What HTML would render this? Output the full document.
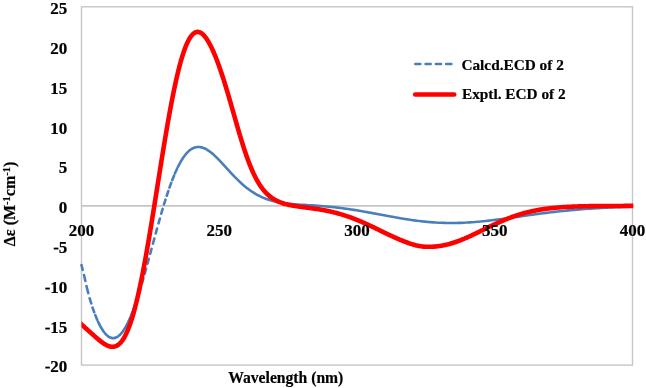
<!DOCTYPE html>
<html><head><meta charset="utf-8"><style>
html,body{margin:0;padding:0;background:#fff;width:646px;height:388px;overflow:hidden}
svg{display:block;will-change:transform}
.t{font-family:"Liberation Serif",serif;font-weight:bold;font-size:17px;fill:#000;stroke:#000;stroke-width:0.2px}
.l{font-family:"Liberation Serif",serif;font-weight:bold;font-size:15.3px;fill:#000;stroke:#000;stroke-width:0.2px}
.a{font-family:"Liberation Serif",serif;font-weight:bold;font-size:16px;fill:#000;stroke:#000;stroke-width:0.2px}
</style></head><body>
<svg width="646" height="388" viewBox="0 0 646 388">
<rect x="81.5" y="6.8" width="551.0" height="358.3" fill="none" stroke="#c6c6c6" stroke-width="1.4"/>
<line x1="81.5" y1="205.86" x2="632.5" y2="205.86" stroke="#c6c6c6" stroke-width="1.6"/>
<path d="M81.50,265.00L84.25,276.05M84.25,276.05L87.00,288.26M87.00,288.26L89.75,298.66M89.75,298.66L92.50,307.51M92.50,307.51L95.25,315.09M95.25,315.09L98.00,321.58M98.00,321.58L100.75,327.04M100.75,327.04L103.50,331.46M103.50,331.46L106.25,334.78M106.25,334.78L109.00,336.99M109.00,336.99L111.75,338.08M111.75,338.08L114.50,338.07M114.50,338.07L117.25,336.97M117.25,336.97L120.00,334.80M120.00,334.80L122.75,331.56M122.75,331.56L125.50,327.28M125.50,327.28L128.25,322.01M128.25,322.01L131.00,315.80M131.00,315.80L133.75,308.71M133.75,308.71L136.50,300.84M136.50,300.84L139.25,292.29M139.25,292.29L142.00,283.17M142.00,283.17L144.75,273.59M144.75,273.59L147.50,263.69M147.50,263.69L150.25,253.58M150.25,253.58L153.00,243.41M153.00,243.41L155.75,233.29M155.75,233.29L158.50,223.35M158.50,223.35L161.25,213.71M161.25,213.71L164.00,204.46M164.00,204.46L166.75,195.72M166.75,195.72L169.50,187.56M169.50,187.56L172.25,180.06M172.25,180.06L175.00,173.27M175.00,173.27L177.75,167.23M177.75,167.23L180.50,161.99M180.50,161.99L183.25,157.55M183.25,157.55L186.00,153.91M186.00,153.91L188.75,151.06M188.75,151.06L191.50,148.99M191.50,148.99L194.25,147.66M194.25,147.66L197.00,147.02M197.00,147.02L199.75,147.02M199.75,147.02L202.50,147.62M202.50,147.62L205.25,148.73M205.25,148.73L208.00,150.32M208.00,150.32L210.75,152.29M210.75,152.29L213.50,154.60M213.50,154.60L216.25,157.16M216.25,157.16L219.00,159.93M219.00,159.93L221.75,162.83M221.75,162.83L224.50,165.82M224.50,165.82L227.25,168.83M227.25,168.83L230.00,171.84M230.00,171.84L232.75,174.78M232.75,174.78L235.50,177.64M235.50,177.64L238.25,180.38M238.25,180.38L241.00,182.98M241.00,182.98L243.75,185.42M243.75,185.42L246.50,187.69M246.50,187.69L249.25,189.79M249.25,189.79L252.00,191.71M252.00,191.71L254.75,193.45M254.75,193.45L257.50,195.01M257.50,195.01L260.25,196.41M260.25,196.41L263.00,197.65M263.00,197.65L265.75,198.74M265.75,198.74L268.50,199.69M268.50,199.69L271.25,200.52M271.25,200.52L274.00,201.24M274.00,201.24L276.75,201.85M276.75,201.85L279.50,202.38M279.50,202.38L282.25,202.83M282.25,202.83L285.00,203.22M285.00,203.22L287.75,203.55M287.75,203.55L290.50,203.84M290.50,203.84L293.25,204.09M293.25,204.09L296.00,204.32M296.00,204.32L298.75,204.52M298.75,204.52L301.50,204.71M301.50,204.71L304.25,204.89M304.25,204.89L307.00,205.07M307.00,205.07L309.75,205.24M309.75,205.24L312.50,205.42M312.50,205.42L315.25,205.61M315.25,205.61L318.00,205.81M318.00,205.81L320.75,206.02M320.75,206.02L323.50,206.25M323.50,206.25L326.25,206.49M326.25,206.49L329.00,206.74M329.00,206.74L331.75,207.02M331.75,207.02L334.50,207.31M334.50,207.31L337.25,207.62M337.25,207.62L340.00,207.95M340.00,207.95L342.75,208.30M342.75,208.30L345.50,208.67M345.50,208.67L348.25,209.05M348.25,209.05L351.00,209.46M351.00,209.46L353.75,209.87M353.75,209.87L356.50,210.31M356.50,210.31L359.25,210.76M359.25,210.76L362.00,211.22M362.00,211.22L364.75,211.70M364.75,211.70L367.50,212.18M367.50,212.18L370.25,212.68M370.25,212.68L373.00,213.18M373.00,213.18L375.75,213.69M375.75,213.69L378.50,214.20M378.50,214.20L381.25,214.72M381.25,214.72L384.00,215.23M384.00,215.23L386.75,215.75M386.75,215.75L389.50,216.26M389.50,216.26L392.25,216.76M392.25,216.76L395.00,217.26M395.00,217.26L397.75,217.74M397.75,217.74L400.50,218.22M400.50,218.22L403.25,218.68M403.25,218.68L406.00,219.12M406.00,219.12L408.75,219.55M408.75,219.55L411.50,219.96M411.50,219.96L414.25,220.35M414.25,220.35L417.00,220.71M417.00,220.71L419.75,221.05M419.75,221.05L422.50,221.37M422.50,221.37L425.25,221.66M425.25,221.66L428.00,221.93M428.00,221.93L430.75,222.16M430.75,222.16L433.50,222.37M433.50,222.37L436.25,222.55M436.25,222.55L439.00,222.70M439.00,222.70L441.75,222.82M441.75,222.82L444.50,222.91M444.50,222.91L447.25,222.97M447.25,222.97L450.00,223.00M450.00,223.00L452.75,223.00M452.75,223.00L455.50,222.97M455.50,222.97L458.25,222.91M458.25,222.91L461.00,222.83M461.00,222.83L463.75,222.71M463.75,222.71L466.50,222.57M466.50,222.57L469.25,222.41M469.25,222.41L472.00,222.22M472.00,222.22L474.75,222.01M474.75,222.01L477.50,221.78M477.50,221.78L480.25,221.52M480.25,221.52L483.00,221.25M483.00,221.25L485.75,220.96M485.75,220.96L488.50,220.65M488.50,220.65L491.25,220.33M491.25,220.33L494.00,219.99M494.00,219.99L496.75,219.65M496.75,219.65L499.50,219.29M499.50,219.29L502.25,218.92M502.25,218.92L505.00,218.55M505.00,218.55L507.75,218.17M507.75,218.17L510.50,217.78M510.50,217.78L513.25,217.39M513.25,217.39L516.00,217.00M516.00,217.00L518.75,216.61M518.75,216.61L521.50,216.22M521.50,216.22L524.25,215.83M524.25,215.83L527.00,215.44M527.00,215.44L529.75,215.05M529.75,215.05L532.50,214.67M532.50,214.67L535.25,214.30M535.25,214.30L538.00,213.93M538.00,213.93L540.75,213.56M540.75,213.56L543.50,213.21M543.50,213.21L546.25,212.86M546.25,212.86L549.00,212.52M549.00,212.52L551.75,212.19M551.75,212.19L554.50,211.86M554.50,211.86L557.25,211.55M557.25,211.55L560.00,211.25M560.00,211.25L562.75,210.96M562.75,210.96L565.50,210.67M565.50,210.67L568.25,210.40M568.25,210.40L571.00,210.14M571.00,210.14L573.75,209.89M573.75,209.89L576.50,209.65M576.50,209.65L579.25,209.42M579.25,209.42L582.00,209.20M582.00,209.20L584.75,208.99M584.75,208.99L587.50,208.79M587.50,208.79L590.25,208.60M590.25,208.60L593.00,208.42M593.00,208.42L595.75,208.25M595.75,208.25L598.50,208.08M598.50,208.08L601.25,207.93M601.25,207.93L604.00,207.79M604.00,207.79L606.75,207.65M606.75,207.65L609.50,207.52M609.50,207.52L612.25,207.40M612.25,207.40L615.00,207.29M615.00,207.29L617.75,207.18M617.75,207.18L620.50,207.08M620.50,207.08L623.25,206.99M623.25,206.99L626.00,206.90M626.00,206.90L628.75,206.82M628.75,206.82L631.50,206.75" fill="none" stroke="#4a7ebb" stroke-width="2.6" stroke-linecap="round" stroke-dasharray="5.0 5.3"/>
<defs><clipPath id="pc"><rect x="81.5" y="0" width="551.8" height="388"/></clipPath></defs>
<path clip-path="url(#pc)" d="M78.00,321.29 L78.61,321.85 L79.23,322.41 L79.84,322.96 L80.46,323.52 L81.07,324.07 L81.68,324.62 L82.30,325.17 L82.91,325.72 L83.52,326.27 L84.14,326.81 L84.75,327.36 L85.37,327.91 L85.98,328.46 L86.59,329.01 L87.21,329.56 L87.82,330.11 L88.43,330.66 L89.05,331.21 L89.66,331.76 L90.28,332.31 L90.89,332.86 L91.50,333.42 L92.12,333.97 L92.73,334.51 L93.34,335.06 L93.96,335.61 L94.57,336.15 L95.19,336.69 L95.80,337.23 L96.41,337.76 L97.03,338.29 L97.64,338.82 L98.26,339.33 L98.90,339.87 L99.54,340.39 L100.18,340.90 L100.82,341.40 L101.46,341.89 L102.13,342.39 L102.80,342.87 L103.47,343.33 L104.14,343.77 L104.84,344.20 L105.54,344.61 L106.26,345.01 L106.99,345.37 L107.74,345.71 L108.49,346.01 L109.28,346.27 L110.06,346.48 L110.87,346.64 L111.68,346.74 L112.48,346.77 L113.29,346.74 L114.10,346.63 L114.88,346.45 L115.66,346.19 L116.42,345.86 L117.14,345.48 L117.84,345.04 L118.51,344.55 L119.15,344.02 L119.77,343.46 L120.35,342.86 L120.91,342.24 L121.44,341.60 L121.94,340.96 L122.42,340.31 L122.89,339.62 L123.34,338.93 L123.78,338.21 L124.20,337.51 L124.62,336.77 L125.01,336.05 L125.40,335.30 L125.76,334.58 L126.13,333.84 L126.49,333.07 L126.83,332.34 L127.16,331.59 L127.49,330.81 L127.83,330.02 L128.14,329.27 L128.44,328.50 L128.75,327.72 L129.06,326.92 L129.36,326.10 L129.64,325.33 L129.92,324.55 L130.20,323.76 L130.48,322.95 L130.76,322.13 L131.04,321.29 L131.29,320.52 L131.54,319.74 L131.79,318.95 L132.04,318.15 L132.29,317.33 L132.54,316.50 L132.80,315.66 L133.05,314.80 L133.27,314.03 L133.49,313.26 L133.72,312.47 L133.94,311.67 L134.16,310.86 L134.39,310.04 L134.61,309.22 L134.83,308.38 L135.06,307.53 L135.28,306.68 L135.50,305.81 L135.73,304.94 L135.95,304.05 L136.14,303.27 L136.34,302.48 L136.53,301.69 L136.73,300.89 L136.92,300.08 L137.12,299.26 L137.32,298.44 L137.51,297.61 L137.71,296.77 L137.90,295.93 L138.10,295.08 L138.29,294.22 L138.49,293.35 L138.68,292.48 L138.88,291.60 L139.07,290.72 L139.27,289.83 L139.46,288.93 L139.66,288.03 L139.85,287.12 L140.02,286.33 L140.19,285.54 L140.36,284.74 L140.52,283.94 L140.69,283.14 L140.86,282.33 L141.03,281.52 L141.19,280.70 L141.36,279.88 L141.53,279.05 L141.70,278.22 L141.86,277.38 L142.03,276.54 L142.20,275.70 L142.37,274.85 L142.53,274.00 L142.70,273.14 L142.87,272.28 L143.03,271.41 L143.20,270.54 L143.37,269.67 L143.54,268.79 L143.70,267.91 L143.87,267.02 L144.04,266.13 L144.21,265.24 L144.37,264.34 L144.54,263.44 L144.71,262.54 L144.88,261.63 L145.04,260.71 L145.21,259.80 L145.38,258.88 L145.55,257.95 L145.71,257.03 L145.88,256.10 L146.05,255.16 L146.22,254.23 L146.38,253.29 L146.55,252.34 L146.69,251.55 L146.83,250.76 L146.97,249.97 L147.11,249.17 L147.25,248.37 L147.39,247.57 L147.53,246.77 L147.67,245.97 L147.81,245.16 L147.95,244.35 L148.08,243.54 L148.22,242.73 L148.36,241.91 L148.50,241.10 L148.64,240.28 L148.78,239.46 L148.92,238.64 L149.06,237.81 L149.20,236.99 L149.34,236.16 L149.48,235.33 L149.62,234.50 L149.76,233.67 L149.90,232.84 L150.04,232.00 L150.18,231.16 L150.32,230.32 L150.46,229.48 L150.60,228.64 L150.74,227.80 L150.87,226.95 L151.01,226.11 L151.15,225.26 L151.29,224.41 L151.43,223.56 L151.57,222.71 L151.71,221.86 L151.85,221.00 L151.99,220.15 L152.13,219.29 L152.27,218.43 L152.41,217.57 L152.55,216.71 L152.69,215.85 L152.83,214.99 L152.97,214.13 L153.11,213.26 L153.25,212.40 L153.39,211.53 L153.53,210.67 L153.66,209.80 L153.80,208.93 L153.94,208.06 L154.08,207.19 L154.22,206.32 L154.36,205.45 L154.50,204.58 L154.64,203.70 L154.78,202.83 L154.92,201.96 L155.06,201.08 L155.20,200.21 L155.34,199.33 L155.48,198.46 L155.62,197.58 L155.76,196.70 L155.90,195.83 L156.04,194.95 L156.18,194.07 L156.32,193.19 L156.45,192.31 L156.59,191.44 L156.73,190.56 L156.87,189.68 L157.01,188.80 L157.15,187.92 L157.29,187.04 L157.43,186.16 L157.57,185.28 L157.71,184.40 L157.85,183.53 L157.99,182.65 L158.13,181.77 L158.27,180.89 L158.41,180.01 L158.55,179.13 L158.69,178.25 L158.83,177.38 L158.97,176.50 L159.11,175.62 L159.24,174.75 L159.38,173.87 L159.52,172.99 L159.66,172.12 L159.80,171.24 L159.94,170.37 L160.08,169.50 L160.22,168.62 L160.36,167.75 L160.50,166.88 L160.64,166.01 L160.78,165.14 L160.92,164.27 L161.06,163.40 L161.20,162.53 L161.34,161.66 L161.48,160.80 L161.62,159.93 L161.76,159.07 L161.90,158.20 L162.03,157.34 L162.17,156.48 L162.31,155.62 L162.45,154.76 L162.59,153.90 L162.73,153.05 L162.87,152.19 L163.01,151.33 L163.15,150.48 L163.29,149.63 L163.43,148.78 L163.57,147.93 L163.71,147.08 L163.85,146.23 L163.99,145.39 L164.13,144.54 L164.27,143.70 L164.41,142.86 L164.55,142.02 L164.69,141.18 L164.82,140.34 L164.96,139.51 L165.10,138.68 L165.24,137.84 L165.38,137.01 L165.52,136.19 L165.66,135.36 L165.80,134.53 L165.94,133.71 L166.08,132.89 L166.22,132.07 L166.36,131.25 L166.50,130.44 L166.64,129.62 L166.78,128.81 L166.92,128.00 L167.06,127.20 L167.20,126.39 L167.34,125.59 L167.48,124.79 L167.61,123.99 L167.75,123.19 L167.89,122.39 L168.03,121.60 L168.17,120.81 L168.31,120.02 L168.48,119.08 L168.65,118.14 L168.81,117.20 L168.98,116.27 L169.15,115.34 L169.32,114.42 L169.48,113.49 L169.65,112.58 L169.82,111.66 L169.99,110.75 L170.15,109.84 L170.32,108.94 L170.49,108.04 L170.66,107.14 L170.82,106.25 L170.99,105.36 L171.16,104.48 L171.33,103.60 L171.49,102.72 L171.66,101.85 L171.83,100.98 L172.00,100.12 L172.16,99.26 L172.33,98.40 L172.50,97.55 L172.66,96.70 L172.83,95.86 L173.00,95.02 L173.17,94.19 L173.33,93.36 L173.50,92.54 L173.67,91.72 L173.84,90.90 L174.00,90.09 L174.17,89.28 L174.34,88.48 L174.51,87.69 L174.67,86.89 L174.84,86.11 L175.01,85.32 L175.20,84.42 L175.40,83.52 L175.59,82.62 L175.79,81.74 L175.98,80.86 L176.18,79.98 L176.38,79.12 L176.57,78.26 L176.77,77.41 L176.96,76.56 L177.16,75.72 L177.35,74.89 L177.55,74.07 L177.74,73.25 L177.94,72.44 L178.13,71.64 L178.33,70.85 L178.52,70.06 L178.72,69.28 L178.94,68.40 L179.17,67.53 L179.39,66.66 L179.61,65.81 L179.84,64.97 L180.06,64.14 L180.28,63.31 L180.50,62.50 L180.73,61.70 L180.95,60.91 L181.17,60.13 L181.40,59.35 L181.65,58.50 L181.90,57.66 L182.15,56.83 L182.40,56.01 L182.65,55.21 L182.90,54.42 L183.16,53.64 L183.41,52.88 L183.69,52.05 L183.96,51.24 L184.24,50.44 L184.52,49.66 L184.80,48.89 L185.11,48.07 L185.42,47.27 L185.72,46.49 L186.03,45.73 L186.34,44.99 L186.67,44.21 L187.01,43.45 L187.34,42.72 L187.70,41.95 L188.07,41.21 L188.46,40.45 L188.85,39.72 L189.27,38.98 L189.68,38.27 L190.13,37.56 L190.58,36.89 L191.05,36.23 L191.55,35.58 L192.08,34.96 L192.64,34.36 L193.23,33.81 L193.87,33.29 L194.54,32.83 L195.26,32.44 L196.02,32.15 L196.80,31.97 L197.61,31.90 L198.42,31.96 L199.20,32.13 L199.95,32.40 L200.68,32.76 L201.37,33.19 L202.04,33.68 L202.69,34.21 L203.27,34.76 L203.86,35.36 L204.41,35.98 L204.94,36.62 L205.45,37.26 L205.95,37.93 L206.42,38.60 L206.90,39.30 L207.34,39.99 L207.79,40.70 L208.21,41.40 L208.63,42.11 L209.05,42.85 L209.44,43.55 L209.83,44.28 L210.22,45.02 L210.61,45.78 L210.97,46.51 L211.33,47.24 L211.70,48.00 L212.06,48.76 L212.42,49.54 L212.76,50.28 L213.09,51.02 L213.43,51.78 L213.76,52.54 L214.10,53.32 L214.43,54.11 L214.77,54.92 L215.07,55.66 L215.38,56.41 L215.69,57.17 L215.99,57.95 L216.30,58.73 L216.61,59.51 L216.91,60.31 L217.22,61.12 L217.53,61.93 L217.83,62.75 L218.11,63.51 L218.39,64.27 L218.67,65.04 L218.95,65.81 L219.23,66.59 L219.51,67.38 L219.79,68.17 L220.07,68.97 L220.35,69.78 L220.62,70.59 L220.90,71.41 L221.18,72.23 L221.46,73.06 L221.74,73.90 L222.02,74.74 L222.27,75.50 L222.52,76.27 L222.77,77.04 L223.02,77.81 L223.28,78.59 L223.53,79.38 L223.78,80.17 L224.03,80.96 L224.28,81.76 L224.53,82.56 L224.78,83.36 L225.03,84.17 L225.28,84.98 L225.54,85.80 L225.79,86.62 L226.04,87.44 L226.29,88.27 L226.54,89.10 L226.79,89.93 L227.04,90.76 L227.29,91.60 L227.54,92.45 L227.80,93.29 L228.05,94.14 L228.30,94.99 L228.55,95.84 L228.80,96.70 L229.05,97.56 L229.30,98.42 L229.55,99.28 L229.78,100.05 L230.00,100.82 L230.22,101.59 L230.45,102.37 L230.67,103.14 L230.89,103.92 L231.12,104.69 L231.34,105.47 L231.56,106.25 L231.78,107.03 L232.01,107.81 L232.23,108.59 L232.45,109.38 L232.68,110.16 L232.90,110.94 L233.12,111.72 L233.35,112.51 L233.57,113.29 L233.79,114.08 L234.02,114.86 L234.24,115.64 L234.46,116.43 L234.69,117.21 L234.91,118.00 L235.13,118.78 L235.36,119.56 L235.58,120.34 L235.80,121.12 L236.03,121.90 L236.25,122.68 L236.47,123.46 L236.70,124.23 L236.92,125.01 L237.14,125.78 L237.36,126.56 L237.59,127.33 L237.81,128.10 L238.06,128.96 L238.31,129.82 L238.56,130.68 L238.82,131.54 L239.07,132.39 L239.32,133.24 L239.57,134.09 L239.82,134.93 L240.07,135.77 L240.32,136.61 L240.57,137.44 L240.82,138.27 L241.08,139.10 L241.33,139.92 L241.58,140.74 L241.83,141.56 L242.08,142.37 L242.33,143.17 L242.58,143.97 L242.83,144.77 L243.08,145.56 L243.34,146.35 L243.59,147.14 L243.84,147.91 L244.09,148.69 L244.34,149.45 L244.59,150.22 L244.87,151.06 L245.15,151.89 L245.43,152.72 L245.71,153.54 L245.99,154.35 L246.26,155.16 L246.54,155.96 L246.82,156.75 L247.10,157.54 L247.38,158.31 L247.66,159.08 L247.94,159.84 L248.22,160.60 L248.52,161.42 L248.83,162.23 L249.14,163.03 L249.45,163.83 L249.75,164.61 L250.06,165.38 L250.37,166.15 L250.67,166.90 L250.98,167.65 L251.31,168.45 L251.65,169.24 L251.98,170.01 L252.32,170.78 L252.65,171.53 L252.99,172.27 L253.32,173.01 L253.69,173.78 L254.05,174.55 L254.41,175.30 L254.77,176.04 L255.14,176.76 L255.53,177.53 L255.92,178.28 L256.31,179.01 L256.70,179.73 L257.09,180.43 L257.51,181.17 L257.93,181.89 L258.35,182.60 L258.76,183.28 L259.21,184.00 L259.66,184.70 L260.10,185.38 L260.58,186.08 L261.05,186.76 L261.53,187.43 L262.00,188.07 L262.50,188.73 L263.00,189.38 L263.53,190.03 L264.07,190.67 L264.60,191.28 L265.15,191.91 L265.71,192.51 L266.27,193.09 L266.86,193.67 L267.44,194.24 L268.05,194.81 L268.67,195.35 L269.28,195.88 L269.92,196.40 L270.57,196.90 L271.21,197.38 L271.88,197.86 L272.55,198.32 L273.24,198.78 L273.94,199.21 L274.64,199.62 L275.34,200.02 L276.06,200.41 L276.79,200.78 L277.51,201.13 L278.27,201.48 L279.02,201.80 L279.77,202.12 L280.53,202.41 L281.28,202.69 L282.06,202.97 L282.84,203.23 L283.62,203.48 L284.40,203.72 L285.19,203.94 L285.97,204.15 L286.75,204.35 L287.53,204.55 L288.31,204.73 L289.09,204.90 L289.90,205.07 L290.71,205.24 L291.52,205.40 L292.33,205.55 L293.14,205.69 L293.95,205.83 L294.76,205.96 L295.56,206.09 L296.37,206.21 L297.18,206.34 L297.99,206.45 L298.80,206.57 L299.61,206.68 L300.42,206.79 L301.23,206.90 L302.04,207.00 L302.85,207.11 L303.66,207.21 L304.46,207.32 L305.27,207.42 L306.08,207.53 L306.89,207.63 L307.70,207.73 L308.51,207.84 L309.32,207.94 L310.13,208.05 L310.94,208.16 L311.75,208.27 L312.56,208.38 L313.36,208.49 L314.17,208.61 L314.98,208.73 L315.79,208.85 L316.60,208.97 L317.41,209.09 L318.22,209.22 L319.03,209.35 L319.84,209.48 L320.65,209.62 L321.46,209.76 L322.26,209.90 L323.07,210.04 L323.88,210.19 L324.69,210.35 L325.50,210.50 L326.31,210.66 L327.12,210.82 L327.93,210.99 L328.74,211.16 L329.55,211.34 L330.33,211.51 L331.11,211.69 L331.89,211.87 L332.67,212.05 L333.45,212.24 L334.23,212.44 L335.01,212.63 L335.80,212.83 L336.58,213.04 L337.36,213.25 L338.14,213.46 L338.92,213.68 L339.70,213.90 L340.48,214.13 L341.26,214.36 L342.05,214.60 L342.83,214.83 L343.61,215.08 L344.39,215.33 L345.17,215.58 L345.95,215.84 L346.73,216.10 L347.51,216.36 L348.30,216.63 L349.08,216.90 L349.86,217.18 L350.61,217.46 L351.36,217.73 L352.12,218.01 L352.87,218.29 L353.62,218.58 L354.38,218.87 L355.13,219.17 L355.88,219.47 L356.64,219.77 L357.39,220.07 L358.14,220.38 L358.90,220.70 L359.65,221.01 L360.40,221.33 L361.16,221.65 L361.91,221.98 L362.66,222.31 L363.42,222.64 L364.17,222.97 L364.92,223.31 L365.68,223.65 L366.43,223.99 L367.18,224.34 L367.94,224.68 L368.69,225.03 L369.42,225.37 L370.14,225.71 L370.87,226.05 L371.59,226.40 L372.32,226.74 L373.04,227.09 L373.77,227.44 L374.49,227.79 L375.22,228.14 L375.94,228.49 L376.67,228.84 L377.39,229.19 L378.12,229.55 L378.85,229.90 L379.57,230.25 L380.30,230.61 L381.02,230.96 L381.75,231.31 L382.47,231.67 L383.20,232.02 L383.92,232.37 L384.65,232.72 L385.37,233.07 L386.10,233.42 L386.83,233.77 L387.55,234.11 L388.28,234.46 L389.00,234.80 L389.73,235.14 L390.45,235.48 L391.21,235.83 L391.96,236.18 L392.71,236.53 L393.47,236.87 L394.22,237.21 L394.97,237.55 L395.73,237.88 L396.48,238.21 L397.23,238.54 L397.99,238.87 L398.74,239.19 L399.49,239.51 L400.25,239.82 L401.00,240.13 L401.75,240.44 L402.50,240.74 L403.26,241.04 L404.01,241.34 L404.76,241.63 L405.52,241.92 L406.27,242.21 L407.02,242.49 L407.78,242.76 L408.56,243.04 L409.34,243.31 L410.12,243.58 L410.90,243.84 L411.68,244.09 L412.47,244.33 L413.25,244.57 L414.03,244.79 L414.81,245.00 L415.59,245.21 L416.37,245.40 L417.15,245.58 L417.96,245.75 L418.77,245.92 L419.58,246.06 L420.39,246.20 L421.20,246.32 L422.01,246.42 L422.82,246.51 L423.63,246.59 L424.43,246.66 L425.24,246.71 L426.05,246.75 L426.86,246.78 L427.67,246.80 L428.48,246.81 L429.29,246.80 L430.10,246.79 L430.91,246.77 L431.72,246.74 L432.53,246.70 L433.33,246.65 L434.14,246.59 L434.95,246.53 L435.76,246.45 L436.57,246.37 L437.38,246.28 L438.19,246.18 L439.00,246.07 L439.81,245.96 L440.62,245.84 L441.43,245.70 L442.23,245.56 L443.04,245.42 L443.85,245.26 L444.66,245.09 L445.47,244.92 L446.25,244.74 L447.03,244.56 L447.81,244.36 L448.60,244.16 L449.38,243.96 L450.16,243.74 L450.94,243.52 L451.72,243.29 L452.50,243.05 L453.28,242.81 L454.06,242.55 L454.85,242.30 L455.63,242.03 L456.41,241.76 L457.19,241.48 L457.94,241.21 L458.70,240.93 L459.45,240.64 L460.20,240.35 L460.96,240.05 L461.71,239.75 L462.46,239.45 L463.22,239.14 L463.97,238.82 L464.72,238.50 L465.48,238.18 L466.23,237.85 L466.98,237.52 L467.74,237.18 L468.49,236.85 L469.24,236.50 L470.00,236.16 L470.75,235.81 L471.50,235.46 L472.23,235.12 L472.95,234.78 L473.68,234.44 L474.40,234.09 L475.13,233.74 L475.85,233.39 L476.58,233.04 L477.30,232.69 L478.03,232.34 L478.76,231.98 L479.48,231.63 L480.21,231.27 L480.93,230.92 L481.66,230.56 L482.38,230.21 L483.11,229.85 L483.83,229.49 L484.56,229.14 L485.28,228.78 L486.01,228.43 L486.74,228.07 L487.46,227.72 L488.19,227.37 L488.91,227.01 L489.64,226.66 L490.36,226.32 L491.09,225.97 L491.81,225.62 L492.54,225.28 L493.26,224.94 L493.99,224.60 L494.71,224.26 L495.47,223.91 L496.22,223.56 L496.97,223.22 L497.73,222.87 L498.48,222.54 L499.23,222.20 L499.99,221.87 L500.74,221.54 L501.49,221.21 L502.25,220.89 L503.00,220.57 L503.75,220.25 L504.51,219.94 L505.26,219.63 L506.01,219.32 L506.77,219.02 L507.52,218.72 L508.27,218.42 L509.03,218.13 L509.78,217.85 L510.53,217.56 L511.29,217.28 L512.04,217.01 L512.79,216.74 L513.57,216.46 L514.36,216.19 L515.14,215.92 L515.92,215.66 L516.70,215.40 L517.48,215.14 L518.26,214.89 L519.04,214.65 L519.82,214.41 L520.61,214.17 L521.39,213.94 L522.17,213.71 L522.95,213.49 L523.73,213.27 L524.51,213.05 L525.29,212.85 L526.07,212.64 L526.86,212.44 L527.64,212.24 L528.42,212.05 L529.20,211.86 L529.98,211.68 L530.76,211.50 L531.54,211.33 L532.35,211.15 L533.16,210.98 L533.97,210.81 L534.78,210.64 L535.59,210.48 L536.40,210.33 L537.21,210.18 L538.02,210.03 L538.82,209.89 L539.63,209.75 L540.44,209.61 L541.25,209.48 L542.06,209.35 L542.87,209.23 L543.68,209.11 L544.49,208.99 L545.30,208.88 L546.11,208.77 L546.92,208.66 L547.72,208.56 L548.53,208.46 L549.34,208.36 L550.15,208.27 L550.96,208.18 L551.77,208.09 L552.58,208.00 L553.39,207.92 L554.20,207.84 L555.01,207.76 L555.82,207.69 L556.62,207.62 L557.43,207.55 L558.24,207.48 L559.05,207.42 L559.86,207.35 L560.67,207.29 L561.48,207.24 L562.29,207.18 L563.10,207.13 L563.91,207.07 L564.72,207.02 L565.52,206.98 L566.33,206.93 L567.14,206.89 L567.95,206.84 L568.76,206.80 L569.57,206.76 L570.38,206.72 L571.19,206.69 L572.00,206.65 L572.81,206.62 L573.62,206.58 L574.42,206.55 L575.23,206.52 L576.04,206.50 L576.85,206.47 L577.66,206.44 L578.47,206.42 L579.28,206.39 L580.09,206.37 L580.90,206.35 L581.71,206.33 L582.52,206.30 L583.32,206.29 L584.13,206.27 L584.94,206.25 L585.75,206.23 L586.56,206.22 L587.37,206.20 L588.18,206.19 L588.99,206.17 L589.80,206.16 L590.61,206.14 L591.42,206.13 L592.22,206.12 L593.03,206.11 L593.84,206.10 L594.65,206.09 L595.46,206.08 L596.27,206.07 L597.08,206.06 L597.89,206.05 L598.70,206.04 L599.51,206.04 L600.32,206.03 L601.12,206.02 L601.93,206.02 L602.74,206.01 L603.55,206.00 L604.36,206.00 L605.17,205.99 L605.98,205.99 L606.79,205.98 L607.60,205.98 L608.41,205.97 L609.22,205.97 L610.03,205.97 L610.83,205.96 L611.64,205.96 L612.45,205.96 L613.26,205.95 L614.07,205.95 L614.88,205.95 L615.69,205.94 L616.50,205.94 L617.31,205.94 L618.12,205.94 L618.93,205.93 L619.73,205.93 L620.54,205.93 L621.35,205.93 L622.16,205.93 L622.97,205.93 L623.78,205.92 L624.59,205.92 L625.40,205.92 L626.21,205.92 L627.02,205.92 L627.83,205.92 L628.63,205.92 L629.44,205.92 L630.25,205.91 L631.06,205.91 L631.87,205.91 L632.68,205.91 L633.49,205.91 L634.30,205.91 L635.11,205.91 L635.92,205.91 L636.00,205.91" fill="none" stroke="#ff0000" stroke-width="4.6" stroke-linejoin="round" stroke-linecap="butt"/>
<text x="67.3" y="14.10" text-anchor="end" class="t">25</text><text x="67.3" y="53.91" text-anchor="end" class="t">20</text><text x="67.3" y="93.72" text-anchor="end" class="t">15</text><text x="67.3" y="133.53" text-anchor="end" class="t">10</text><text x="67.3" y="173.34" text-anchor="end" class="t">5</text><text x="67.3" y="213.16" text-anchor="end" class="t">0</text><text x="67.3" y="252.97" text-anchor="end" class="t">-5</text><text x="67.3" y="292.78" text-anchor="end" class="t">-10</text><text x="67.3" y="332.59" text-anchor="end" class="t">-15</text><text x="67.3" y="372.40" text-anchor="end" class="t">-20</text><text x="81.50" y="236.1" text-anchor="middle" class="t">200</text><text x="219.25" y="236.1" text-anchor="middle" class="t">250</text><text x="357.00" y="236.1" text-anchor="middle" class="t">300</text><text x="494.75" y="236.1" text-anchor="middle" class="t">350</text><text x="632.50" y="236.1" text-anchor="middle" class="t">400</text>
<line x1="415.3" y1="64" x2="451.4" y2="64" stroke="#4a7ebb" stroke-width="2.6" stroke-linecap="round" stroke-dasharray="5.1 5.2"/>
<line x1="415.2" y1="94.45" x2="454.2" y2="94.45" stroke="#ff0000" stroke-width="4.6" stroke-linecap="round"/>
<text x="461.4" y="69.5" class="l">Calcd.ECD of 2</text>
<text x="462" y="99.3" class="l">Exptl. ECD of 2</text>
<text x="228.2" y="382.8" class="l" style="font-size:15.65px">Wavelength (nm)</text>
<text transform="translate(14.6,246.2) rotate(-90)" class="a">&#916;&#949; (M<tspan dy="-5" font-size="10.5">-1</tspan><tspan dy="5">cm</tspan><tspan dy="-5" font-size="10.5">-1</tspan><tspan dy="5">)</tspan></text>
</svg>
</body></html>
